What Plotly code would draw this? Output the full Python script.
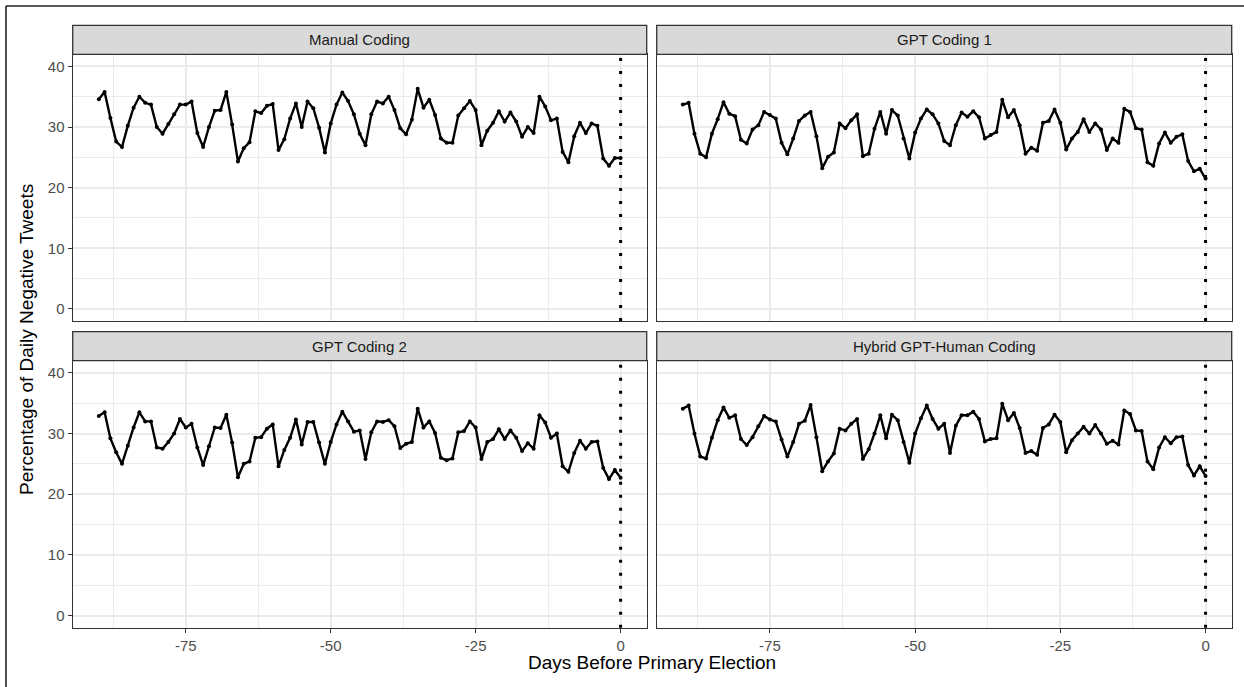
import plotly.graph_objects as go

# ---------------- data ----------------
days = list(range(-90, 1))
election_day = 0

panel_titles = ["Manual Coding", "GPT Coding 1", "GPT Coding 2", "Hybrid GPT-Human Coding"]

manual = [34.6, 35.8, 31.5, 27.6, 26.7, 30.2, 33.2, 35.0, 34.0, 33.7,
          30.0, 28.9, 30.5, 32.1, 33.7, 33.7, 34.2, 29.0, 26.7, 30.0,
          32.7, 32.8, 35.8, 30.4, 24.3, 26.5, 27.5, 32.6, 32.3, 33.5,
          33.8, 26.2, 28.0, 31.4, 33.9, 30.0, 34.2, 33.1, 29.9, 25.8,
          30.6, 33.7, 35.7, 34.3, 32.1, 28.9, 27.0, 32.1, 34.2, 33.9,
          35.0, 32.8, 29.8, 28.8, 31.2, 36.3, 33.2, 34.5, 32.0, 28.1,
          27.4, 27.4, 31.9, 33.1, 34.3, 32.8, 27.0, 29.4, 30.7, 32.6,
          30.9, 32.4, 30.9, 28.4, 30.0, 29.0, 35.0, 33.4, 31.1, 31.4,
          25.9, 24.2, 28.5, 30.7, 29.0, 30.6, 30.2, 24.8, 23.6, 24.9,
          24.9]

gpt1 = [33.7, 34.0, 28.9, 25.6, 25.0, 28.9, 31.3, 34.1, 32.2, 31.8,
        27.9, 27.3, 29.6, 30.3, 32.5, 32.0, 31.4, 27.4, 25.5, 28.1,
        31.0, 31.9, 32.5, 28.5, 23.2, 25.1, 25.8, 30.6, 29.8, 31.1,
        32.1, 25.2, 25.6, 29.7, 32.5, 28.9, 32.8, 31.9, 28.1, 24.8,
        29.1, 31.4, 32.9, 32.1, 30.6, 27.7, 27.0, 30.3, 32.4, 31.7,
        32.6, 31.6, 28.1, 28.7, 29.2, 34.5, 31.6, 32.8, 30.3, 25.6,
        26.6, 26.1, 30.7, 31.0, 32.9, 30.7, 26.3, 28.1, 29.2, 31.3,
        29.2, 30.6, 29.6, 26.2, 28.1, 27.4, 33.0, 32.5, 29.8, 29.6,
        24.2, 23.6, 27.3, 29.1, 27.4, 28.4, 28.8, 24.4, 22.7, 23.1,
        21.5]

gpt2 = [32.9, 33.5, 29.2, 26.9, 25.0, 28.0, 31.0, 33.5, 32.0, 32.0,
        27.7, 27.5, 28.6, 30.0, 32.4, 31.0, 31.6, 27.7, 24.8, 27.9,
        31.0, 30.9, 33.1, 28.5, 22.8, 25.0, 25.4, 29.3, 29.4, 30.8,
        31.5, 24.6, 27.3, 29.3, 32.3, 28.2, 31.9, 31.9, 28.5, 25.0,
        28.6, 31.5, 33.6, 32.0, 30.3, 30.5, 25.8, 30.2, 32.0, 31.9,
        32.2, 31.2, 27.6, 28.3, 28.6, 34.1, 31.0, 32.0, 30.1, 26.0,
        25.6, 25.9, 30.2, 30.4, 32.0, 31.0, 25.8, 28.6, 29.1, 30.7,
        29.1, 30.5, 29.3, 27.1, 28.4, 27.5, 33.0, 31.8, 29.3, 30.0,
        24.6, 23.7, 26.8, 28.8, 27.5, 28.6, 28.7, 24.3, 22.5, 24.0,
        22.7]

hybrid = [34.1, 34.6, 30.0, 26.2, 25.9, 29.3, 32.2, 34.3, 32.6, 33.0,
          29.1, 28.1, 29.4, 31.2, 32.9, 32.3, 32.0, 29.0, 26.2, 28.6,
          31.6, 32.1, 34.7, 29.4, 23.8, 25.4, 26.7, 30.8, 30.5, 31.6,
          32.4, 25.8, 27.4, 30.0, 33.0, 29.2, 33.1, 32.2, 28.6, 25.2,
          30.0, 32.5, 34.6, 32.4, 30.8, 31.6, 26.8, 31.3, 33.0, 33.0,
          33.6, 32.4, 28.7, 29.1, 29.2, 34.9, 32.2, 33.4, 30.9, 26.8,
          27.1, 26.5, 30.9, 31.5, 33.1, 31.9, 26.9, 28.9, 30.0, 31.1,
          30.0, 31.4, 30.0, 28.3, 28.8, 28.2, 33.8, 33.2, 30.5, 30.4,
          25.4, 24.1, 27.7, 29.4, 28.4, 29.4, 29.5, 24.8, 23.1, 24.6,
          23.0]

x_ticks = [-75, -50, -25, 0]
x_tick_labels = ["-75", "-50", "-25", "0"]
x_minor = [-87.5, -62.5, -37.5, -12.5]
y_ticks = [0, 10, 20, 30, 40]
y_tick_labels = ["0", "10", "20", "30", "40"]
y_minor = [5, 15, 25, 35]

series = [manual, gpt1, gpt2, hybrid]

# ---------------- layout geometry (pixels) ----------------
W, H = 1244, 687
col_px = [(72.7, 646.7), (656.7, 1231.7)]
row_px = [(54.3, 321.0), (360.7, 627.7)]   # plot area top/bottom
strip_h = 29.0

def px_x(a, b):
    return [a / W, b / W]

def px_y(top, bottom):
    return [1 - bottom / H, 1 - top / H]

BORDER = "#333333"
GRID = "#EBEBEB"
TICKC = "#4D4D4D"
FONT = "Liberation Sans, Arial, Helvetica, sans-serif"

fig = go.Figure()

layout = dict(
    width=W, height=H,
    margin=dict(l=0, r=0, t=0, b=0),
    paper_bgcolor="white", plot_bgcolor="white",
    showlegend=False,
    font=dict(family=FONT, color="black"),
)

shapes = []
annotations = []

for k in range(4):
    r, c = divmod(k, 2)
    idx = "" if k == 0 else str(k + 1)
    xname, yname = "x" + idx, "y" + idx
    fig.add_trace(go.Scatter(
        x=days, y=series[k], mode="lines+markers",
        line=dict(color="black", width=2.4),
        marker=dict(color="black", size=4),
        xaxis=xname, yaxis=yname, hoverinfo="x+y",
    ))
    xd = px_x(*col_px[c])
    yd = px_y(*row_px[r])
    layout["xaxis" + idx] = dict(
        domain=xd, anchor=yname, range=[-94.5, 4.5],
        tickmode="array", tickvals=x_ticks, ticktext=x_tick_labels,
        showticklabels=(r == 1), ticks="outside" if r == 1 else "",
        ticklen=4, tickwidth=1.3, tickcolor=BORDER,
        tickfont=dict(size=15, color=TICKC, family=FONT),
        showline=True, mirror=True, linecolor=BORDER, linewidth=1.3,
        showgrid=True, gridcolor=GRID, gridwidth=1.6, zeroline=False,
        minor=dict(tickmode="array", tickvals=x_minor, showgrid=True,
                   gridcolor=GRID, gridwidth=0.8, ticks=""),
        fixedrange=True,
    )
    layout["yaxis" + idx] = dict(
        domain=yd, anchor=xname, range=[-2, 42],
        tickmode="array", tickvals=y_ticks, ticktext=y_tick_labels,
        showticklabels=(c == 0), ticks="outside" if c == 0 else "",
        ticklen=4, tickwidth=1.3, tickcolor=BORDER,
        tickfont=dict(size=15, color=TICKC, family=FONT),
        showline=True, mirror=True, linecolor=BORDER, linewidth=1.3,
        showgrid=True, gridcolor=GRID, gridwidth=1.6, zeroline=False,
        minor=dict(tickmode="array", tickvals=y_minor, showgrid=True,
                   gridcolor=GRID, gridwidth=0.8, ticks=""),
        fixedrange=True,
    )
    # dotted election-day line
    shapes.append(dict(
        type="line", xref=xname, yref=yname + " domain",
        x0=election_day, x1=election_day, y0=0, y1=1,
        line=dict(color="black", width=3, dash="3px,10px"),
    ))
    # strip
    top = row_px[r][0]
    sy = px_y(top - strip_h, top)
    shapes.append(dict(
        type="rect", xref="paper", yref="paper",
        x0=xd[0], x1=xd[1], y0=sy[0], y1=sy[1],
        fillcolor="#D9D9D9", line=dict(color=BORDER, width=1.3), layer="above",
    ))
    annotations.append(dict(
        xref="paper", yref="paper", x=(xd[0] + xd[1]) / 2, y=(sy[0] + sy[1]) / 2,
        text=panel_titles[k], showarrow=False, xanchor="center", yanchor="middle",
        font=dict(size=15, color="#1A1A1A", family=FONT),
    ))

# outer frame lines (left and top) of the figure image
shapes.append(dict(type="line", xref="paper", yref="paper",
                   x0=6 / W, x1=6 / W, y0=0, y1=1 - 6 / H,
                   line=dict(color="#222222", width=1.6)))
shapes.append(dict(type="line", xref="paper", yref="paper",
                   x0=6 / W, x1=1, y0=1 - 6 / H, y1=1 - 6 / H,
                   line=dict(color="#222222", width=1.6)))

# axis titles
annotations.append(dict(
    xref="paper", yref="paper", x=(col_px[0][0] + col_px[1][1]) / 2 / W, y=1 - 662 / H,
    text="Days Before Primary Election", showarrow=False,
    xanchor="center", yanchor="middle", font=dict(size=19, color="black", family=FONT),
))
annotations.append(dict(
    xref="paper", yref="paper", x=26 / W, y=1 - 340 / H,
    text="Percentage of Daily Negative Tweets", showarrow=False, textangle=-90,
    xanchor="center", yanchor="middle", font=dict(size=19, color="black", family=FONT),
))

layout["shapes"] = shapes
layout["annotations"] = annotations
fig.update_layout(**layout)

fig.write_html("out.html", post_script="document.body.style.margin='0';",
               config={"displayModeBar": False})
